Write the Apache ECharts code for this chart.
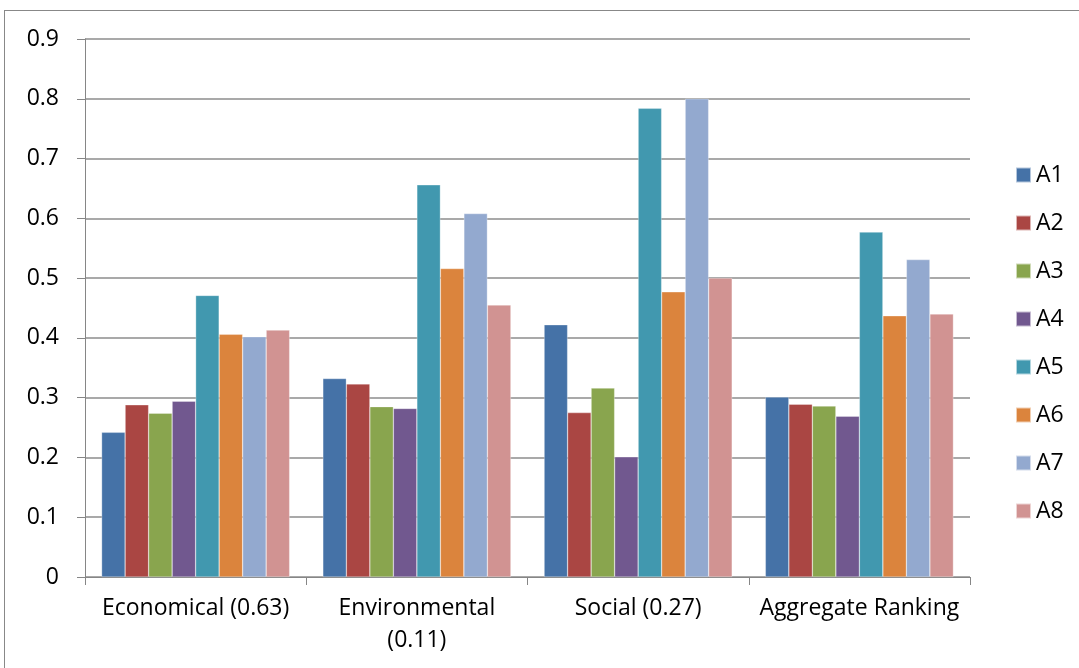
<!DOCTYPE html>
<html>
<head>
<meta charset="utf-8">
<script src="https://cdn.jsdelivr.net/npm/echarts@6/dist/echarts.min.js"></script>
<style>
  html, body { margin: 0; padding: 0; background: #fff; overflow: hidden; }
  #frame { position: absolute; left: 4px; top: 10px; width: 1100px; height: 700px; border: 1px solid #888; box-sizing: border-box; }
  #chart { position: absolute; left: 0; top: 0; width: 1079px; height: 668px; }
</style>
</head>
<body>
<div id="frame"></div>
<div id="chart"></div>
<script>
const categories = ['Economical (0.63)', 'Environmental\n(0.11)', 'Social (0.27)', 'Aggregate Ranking'];
const seriesNames = ['A1', 'A2', 'A3', 'A4', 'A5', 'A6', 'A7', 'A8'];
const A1 = [0.242, 0.332, 0.422, 0.301];
const A2 = [0.288, 0.323, 0.275, 0.289];
const A3 = [0.274, 0.285, 0.316, 0.286];
const A4 = [0.294, 0.282, 0.201, 0.269];
const A5 = [0.471, 0.656, 0.784, 0.577];
const A6 = [0.406, 0.516, 0.477, 0.437];
const A7 = [0.402, 0.608, 0.800, 0.531];
const A8 = [0.413, 0.455, 0.500, 0.440];
const seriesData = [A1, A2, A3, A4, A5, A6, A7, A8];
const colors = ['#4572A7', '#AA4643', '#89A54E', '#71588F', '#4198AF', '#DB843D', '#93A9CF', '#D19392'];

const font = '"Open Sans", "Liberation Sans", sans-serif';
const myChart = echarts.init(document.getElementById('chart'));
const option = {
  animation: false,
  color: colors,
  grid: { left: 85, right: 109, top: 39, bottom: 91 },
  legend: {
    orient: 'vertical',
    left: 1010,
    top: 158,
    itemWidth: 15,
    itemHeight: 15,
    itemGap: 24,
    icon: 'rect',
    textStyle: { fontFamily: font, fontSize: 23, lineHeight: 24, color: '#000' },
    data: seriesNames
  },
  xAxis: {
    type: 'category',
    data: categories,
    axisLine: { lineStyle: { color: '#868686', width: 1 } },
    axisTick: { show: true, interval: 0, length: 8, lineStyle: { color: '#868686' } },
    axisLabel: { interval: 0, fontFamily: font, fontSize: 23, color: '#000', margin: 15, lineHeight: 32 }
  },
  yAxis: {
    type: 'value',
    min: 0,
    max: 0.9,
    interval: 0.1,
    axisLine: { show: true, lineStyle: { color: '#868686', width: 1 } },
    axisTick: { show: true, length: 8, lineStyle: { color: '#868686' } },
    axisLabel: { fontFamily: font, fontSize: 23, color: '#000', margin: 26,
      formatter: function (v) { return String(Math.round(v * 10) / 10); } },
    splitLine: { lineStyle: { color: '#8c8c8c', width: 1.5 } }
  },
  series: seriesNames.map(function (name, i) {
    return {
      name: name,
      type: 'bar',
      data: seriesData[i],
      barGap: '0%',
      barCategoryGap: '15%',
      itemStyle: { borderColor: 'rgba(255,255,255,0.6)', borderWidth: 0.5 }
    };
  })
};
myChart.setOption(option);
</script>
</body>
</html>
